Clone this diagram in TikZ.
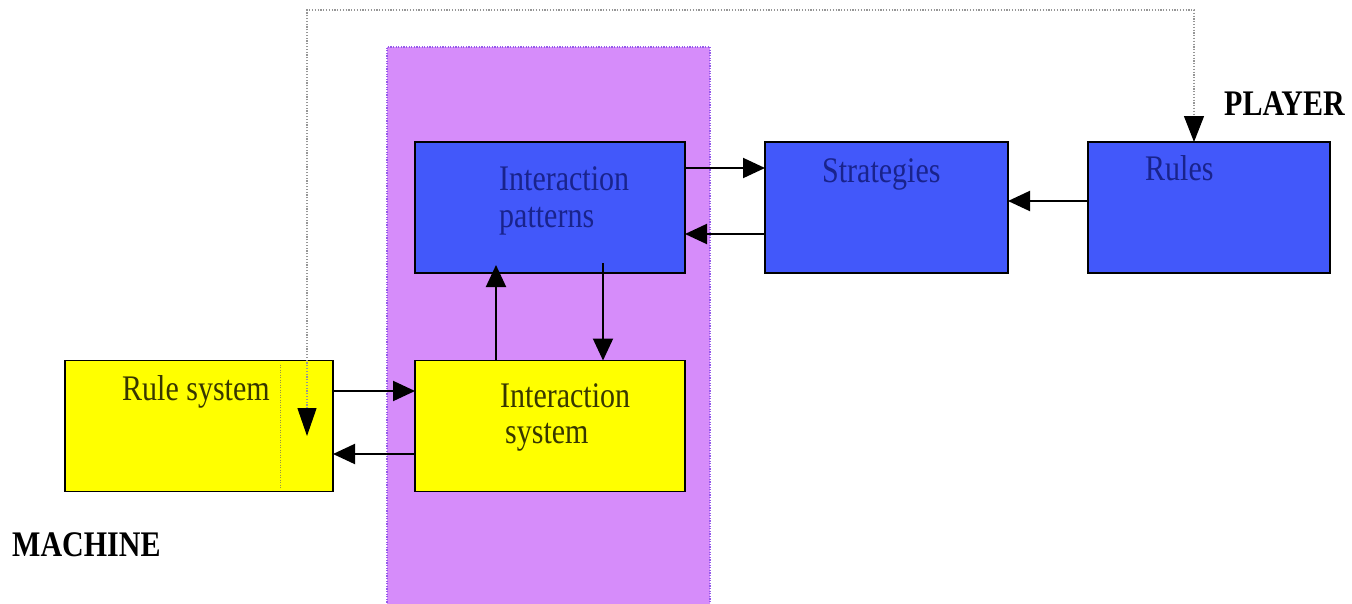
\documentclass[tikz,border=0pt]{standalone}
\usepackage{fontspec}
\setmainfont{Liberation Serif}
\usetikzlibrary{arrows.meta}
\definecolor{zonefill}{RGB}{214,140,250}
\definecolor{zoneedge}{RGB}{150,90,235}
\definecolor{boxblue}{RGB}{66,88,250}
\definecolor{boxyellow}{RGB}{255,255,0}
\definecolor{bluetext}{RGB}{25,35,140}
\definecolor{yellowtext}{RGB}{55,55,0}
\definecolor{dotgray}{RGB}{150,150,150}
\definecolor{dotolive}{RGB}{150,150,70}
% slightly tall lettering
\newcommand{\tallt}[1]{\scalebox{1}[1.2]{#1}}
\begin{document}
\begin{tikzpicture}[x=1pt,y=-1pt,
  box/.style={draw=black,line width=1.6pt,inner sep=0pt,outer sep=0pt,minimum height=131pt},
  bluebox/.style={box,fill=boxblue},
  yellowbox/.style={box,fill=boxyellow},
  lbl/.style={inner sep=0pt,anchor=base west,font=\fontsize{30}{36}\selectfont},
  bluelbl/.style={lbl,text=bluetext},
  yellowlbl/.style={lbl,text=yellowtext},
  tag/.style={lbl,font=\fontsize{30}{36}\selectfont\bfseries,text=black},
  conn/.style={line width=2pt,-{Triangle[length=22pt,width=20pt]}},
  dotconn/.style={draw=dotgray,line width=1.2pt,dash pattern=on 1.2pt off 1.6pt,
    {Triangle[length=28pt,width=19pt,color=black]}-{Triangle[length=26pt,width=20pt,color=black]}},
]
\useasboundingbox (0,0) rectangle (1352,603);

% shaded interaction zone
\node[fill=zonefill,inner sep=0pt,outer sep=0pt,anchor=north west,
      minimum width=323pt,minimum height=566pt] (zone) at (387,47) {};
\draw[zoneedge,line width=1.2pt,dash pattern=on 1.2pt off 1.4pt]
  (zone.south west) |- (zone.north east) -- (zone.south east);

% boxes
\node[bluebox,minimum width=270pt] (ip) at (550,207.5) {};
\node[bluebox,minimum width=243pt] (str) at (886.5,207.5) {};
\node[bluebox,minimum width=242pt] (rul) at (1209,207.5) {};
\node[yellowbox,minimum width=268pt] (rs) at (199,426) {};
\node[yellowbox,minimum width=270pt] (is) at (550,426) {};

% divider inside the rule system box
\draw[dotolive,line width=0.9pt,dash pattern=on 1pt off 1.5pt]
  ([xshift=81pt,yshift=-4pt]rs.north) -- ([xshift=81pt,yshift=3pt]rs.south);

% labels
\node[bluelbl] (ipA) at (499,190) {\tallt{Interaction}};
\node[bluelbl] (ipB) at (499,227) {\tallt{patterns}};
\node[bluelbl] (strL) at (822,182) {\tallt{Strategies}};
\node[bluelbl] (rulL) at (1145,180) {\tallt{Rules}};
\node[yellowlbl] (rsL) at (122,400) {\tallt{Rule system}};
\node[yellowlbl] (isA) at (500,407) {\tallt{Interaction}};
\node[yellowlbl] (isB) at (505,443) {\tallt{system}};
\node[tag] (player) at (1224,115) {\tallt{PLAYER}};
\node[tag] (machine) at (12,556) {\tallt{MACHINE}};

% connectors
\draw[conn] ([yshift=39.5pt]ip.east) -- ([yshift=39.5pt]str.west);
\draw[conn] ([yshift=-26.5pt]str.west) -- ([yshift=-26.5pt]ip.east);
\draw[conn] ([yshift=6.5pt]rul.west) -- ([yshift=6.5pt]str.east);
\draw[conn] ([xshift=-54pt]is.north) -- ([xshift=-54pt,yshift=8pt]ip.south);
\draw[conn] ([xshift=53pt,yshift=10pt]ip.south) -- ([xshift=53pt]is.north);
\draw[conn] ([yshift=35pt]rs.east) -- ([yshift=35pt]is.west);
\draw[conn] ([yshift=-28pt]is.west) -- ([yshift=-28pt]rs.east);

% dotted link between the two rule sets
\coordinate (rsend) at (307,436);
\coordinate (toprun) at (750,10);
\draw[dotconn] (rsend) |- (toprun) -| ([xshift=-15pt]rul.north);
\end{tikzpicture}
\end{document}
